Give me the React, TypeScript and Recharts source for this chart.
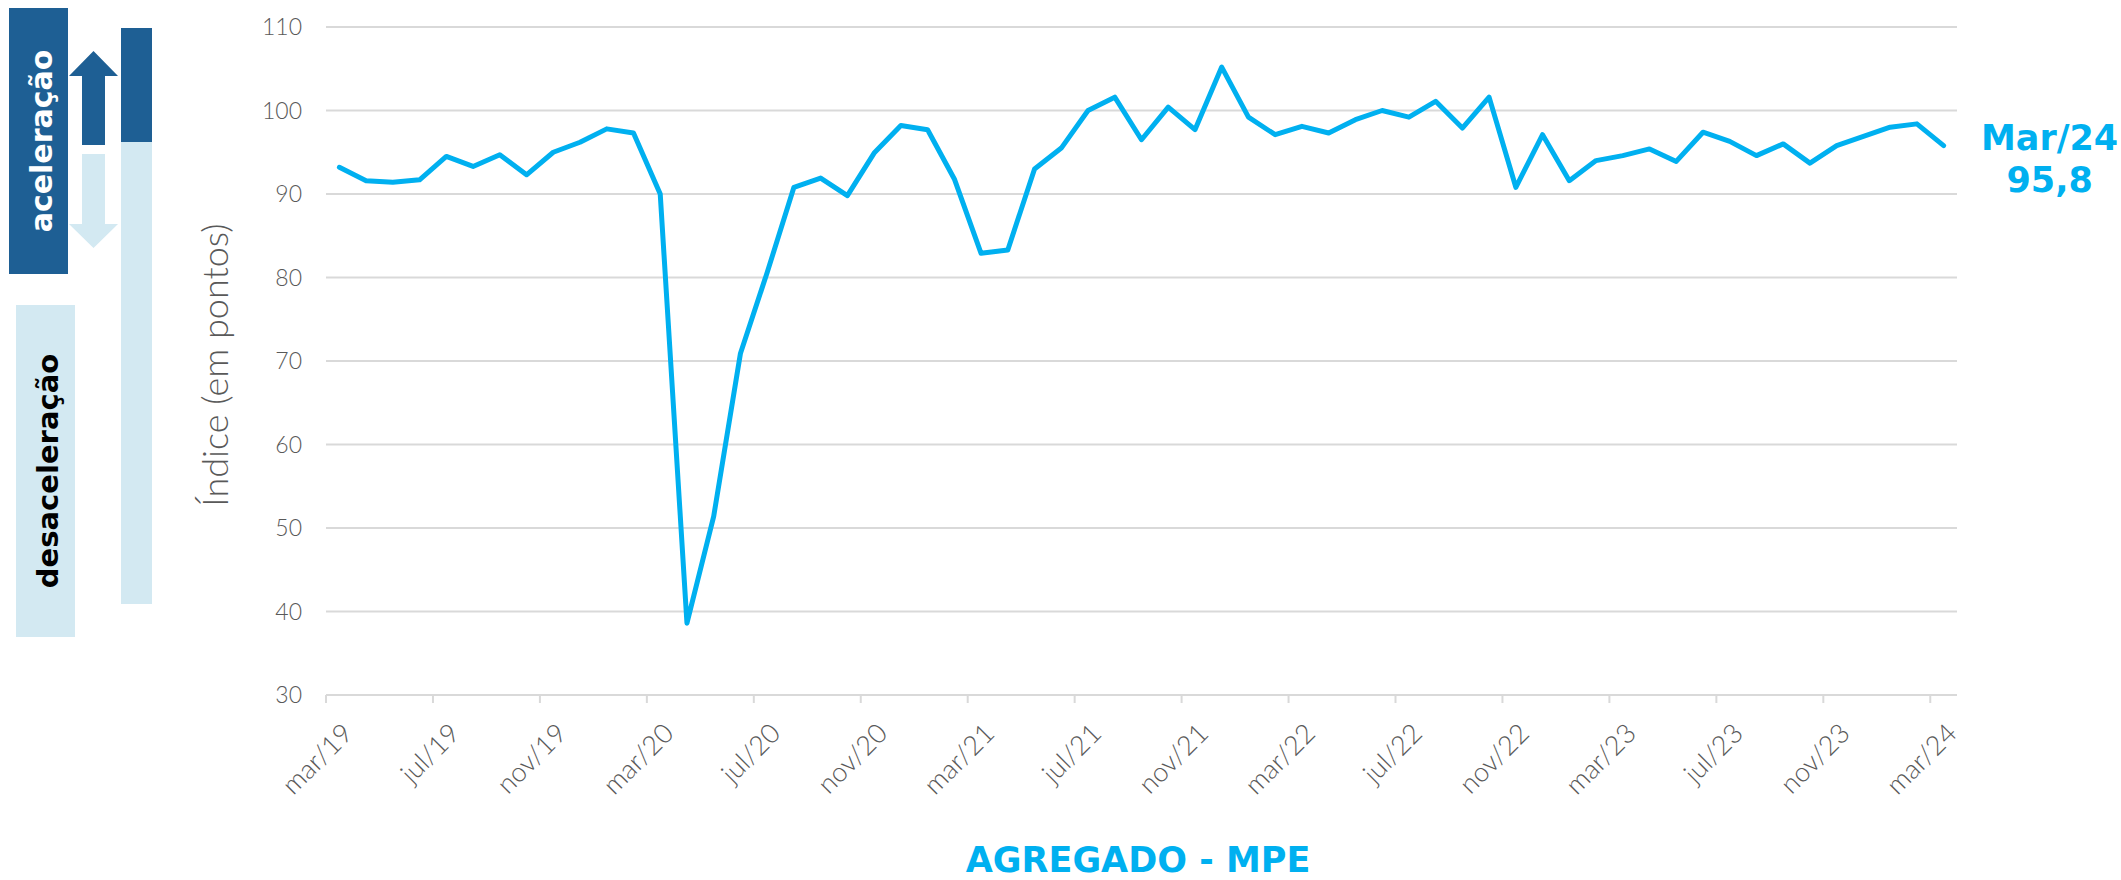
import React from 'react';
import { LineChart, Line, XAxis, YAxis, CartesianGrid } from 'recharts';

// Monthly categories, mar/19 .. mar/24
const months: string[] = [
  'mar/19', 'abr/19', 'mai/19', 'jun/19', 'jul/19', 'ago/19', 'set/19', 'out/19', 'nov/19', 'dez/19',
  'jan/20', 'fev/20', 'mar/20', 'abr/20', 'mai/20', 'jun/20', 'jul/20', 'ago/20', 'set/20', 'out/20', 'nov/20', 'dez/20',
  'jan/21', 'fev/21', 'mar/21', 'abr/21', 'mai/21', 'jun/21', 'jul/21', 'ago/21', 'set/21', 'out/21', 'nov/21', 'dez/21',
  'jan/22', 'fev/22', 'mar/22', 'abr/22', 'mai/22', 'jun/22', 'jul/22', 'ago/22', 'set/22', 'out/22', 'nov/22', 'dez/22',
  'jan/23', 'fev/23', 'mar/23', 'abr/23', 'mai/23', 'jun/23', 'jul/23', 'ago/23', 'set/23', 'out/23', 'nov/23', 'dez/23',
  'jan/24', 'fev/24', 'mar/24',
];

// Índice agregado MPE (em pontos)
const indexValues: number[] = [
  93.2, 91.6, 91.4, 91.7, 94.5, 93.3, 94.7, 92.3, 95.0, 96.2,
  97.8, 97.3, 90.0, 38.6, 51.4, 70.9, 80.6, 90.8, 91.9, 89.8, 94.9, 98.2,
  97.7, 91.8, 82.9, 83.3, 93.0, 95.5, 100.0, 101.6, 96.5, 100.4, 97.7, 105.2,
  99.2, 97.1, 98.1, 97.3, 98.9, 100.0, 99.2, 101.1, 97.9, 101.6, 90.8, 97.1,
  91.6, 94.0, 94.6, 95.4, 93.9, 97.4, 96.3, 94.6, 96.0, 93.7, 95.8, 96.9,
  98.0, 98.4, 95.8,
];

const yTicks: number[] = [30, 40, 50, 60, 70, 80, 90, 100, 110];

const chartTitle = 'AGREGADO - MPE';
const yAxisTitle = 'Índice (em pontos)';
const accelLabel = 'aceleração';
const decelLabel = 'desaceleração';

const data = months.map((m, i) => ({ month: m, value: indexValues[i] }));

const W = 2121;
const H = 880;
const MARGIN = { top: 27, right: 164, left: 0, bottom: 0 };
const Y_AXIS_W = 326;
const X_AXIS_H = 185;
const PLOT_W = W - Y_AXIS_W - MARGIN.right;
const HALF_BAND = PLOT_W / (2 * months.length);

const LINE_COLOR = '#00B0F0';
const GRID_COLOR = '#D9D9D9';
const TEXT_GRAY = '#595959';
const DARK_BLUE = '#1E5F94';
const LIGHT_BLUE = '#D3E9F2';

const XTick = (props: any) => {
  const { x, y, payload } = props;
  const bx = x - HALF_BAND;
  return (
    <g>
      <line x1={bx} y1={y} x2={bx} y2={y + 8} stroke={GRID_COLOR} strokeWidth={2} />
      <text
        x={x + 15}
        y={y + 40}
        transform={`rotate(-45, ${x + 15}, ${y + 40})`}
        textAnchor="end"
        fontFamily="Lato, sans-serif"
        fontWeight={300}
        fontSize={27}
        fill={TEXT_GRAY}
      >
        {payload.value}
      </text>
    </g>
  );
};

const YTick = (props: any) => {
  const { x, y, payload } = props;
  return (
    <text
      x={x}
      y={y}
      dy={8}
      textAnchor="end"
      fontFamily="Lato, sans-serif"
      fontWeight={300}
      fontSize={23}
      fill={TEXT_GRAY}
    >
      {payload.value}
    </text>
  );
};

const YTitle = (props: any) => {
  const vb = props.viewBox || { x: 0, y: 0, width: 0, height: 0 };
  const cx = 228;
  const cy = vb.y + vb.height / 2 + 4;
  return (
    <text
      x={cx}
      y={cy}
      transform={`rotate(-90, ${cx}, ${cy})`}
      textAnchor="middle"
      fontFamily="Lato, sans-serif"
      fontWeight={300}
      fontSize={36}
      fill={TEXT_GRAY}
    >
      {yAxisTitle}
    </text>
  );
};

const lastIndex = indexValues.length - 1;

const EndLabel = (props: any) => {
  const { x, y, value, index } = props;
  if (index !== lastIndex) return null;
  const m = months[lastIndex];
  const name = m.charAt(0).toUpperCase() + m.slice(1);
  const cx = x + 106;
  return (
    <g fontFamily="'DejaVu Sans', sans-serif" fontWeight={700} fontSize={35} fill={LINE_COLOR} textAnchor="middle">
      <text x={cx} y={y + 4}>{name}</text>
      <text x={cx} y={y + 46}>{Number(value).toFixed(1).replace('.', ',')}</text>
    </g>
  );
};

const SideLegend = () => (
  <svg
    width={W}
    height={H}
    style={{ position: 'absolute', left: 0, top: 0, pointerEvents: 'none' }}
  >
    {/* aceleração box */}
    <rect x={9} y={8} width={59} height={266} fill={DARK_BLUE} />
    <text
      x={52}
      y={141}
      transform="rotate(-90, 52, 141)"
      textAnchor="middle"
      fontFamily="'DejaVu Sans', sans-serif"
      fontWeight={700}
      fontSize={30}
      fill="#ffffff"
    >
      {accelLabel}
    </text>
    {/* desaceleração box */}
    <rect x={16} y={305} width={59} height={332} fill={LIGHT_BLUE} />
    <text
      x={58}
      y={471}
      transform="rotate(-90, 58, 471)"
      textAnchor="middle"
      fontFamily="'DejaVu Sans', sans-serif"
      fontWeight={700}
      fontSize={29}
      fill="#000000"
    >
      {decelLabel}
    </text>
    {/* up arrow */}
    <polygon points="93.5,51 118,76 105,76 105,145 82,145 82,76 69,76" fill={DARK_BLUE} />
    {/* down arrow */}
    <polygon points="82,154 105,154 105,224 118,224 93.5,248 69,224 82,224" fill={LIGHT_BLUE} />
    {/* scale bar */}
    <rect x={121} y={28} width={31} height={114} fill={DARK_BLUE} />
    <rect x={121} y={142} width={31} height={462} fill={LIGHT_BLUE} />
    {/* title */}
    <text
      x={1138}
      y={872}
      textAnchor="middle"
      fontFamily="'DejaVu Sans', sans-serif"
      fontWeight={700}
      fontSize={35}
      fill={LINE_COLOR}
    >
      {chartTitle}
    </text>
  </svg>
);

export default function App() {
  return (
    <div style={{ position: 'absolute', left: 0, top: 0, width: W, height: H, background: '#ffffff' }}>
      <LineChart width={W} height={H} data={data} margin={MARGIN}>
        <CartesianGrid vertical={false} stroke={GRID_COLOR} strokeWidth={2} />
        <XAxis
          dataKey="month"
          interval={3}
          height={X_AXIS_H}
          tickLine={false}
          tickSize={0}
          tickMargin={0}
          axisLine={{ stroke: GRID_COLOR, strokeWidth: 2 }}
          padding={{ left: HALF_BAND, right: HALF_BAND }}
          tick={<XTick />}
        />
        <YAxis
          width={Y_AXIS_W}
          domain={[30, 110]}
          ticks={yTicks}
          interval={0}
          axisLine={false}
          tickLine={false}
          tickSize={0}
          tickMargin={24}
          tick={<YTick />}
          label={<YTitle />}
        />
        <Line
          type="linear"
          dataKey="value"
          stroke={LINE_COLOR}
          strokeWidth={5}
          strokeLinejoin="round"
          strokeLinecap="round"
          dot={false}
          activeDot={false}
          isAnimationActive={false}
          label={<EndLabel />}
        />
      </LineChart>
      <SideLegend />
    </div>
  );
}
